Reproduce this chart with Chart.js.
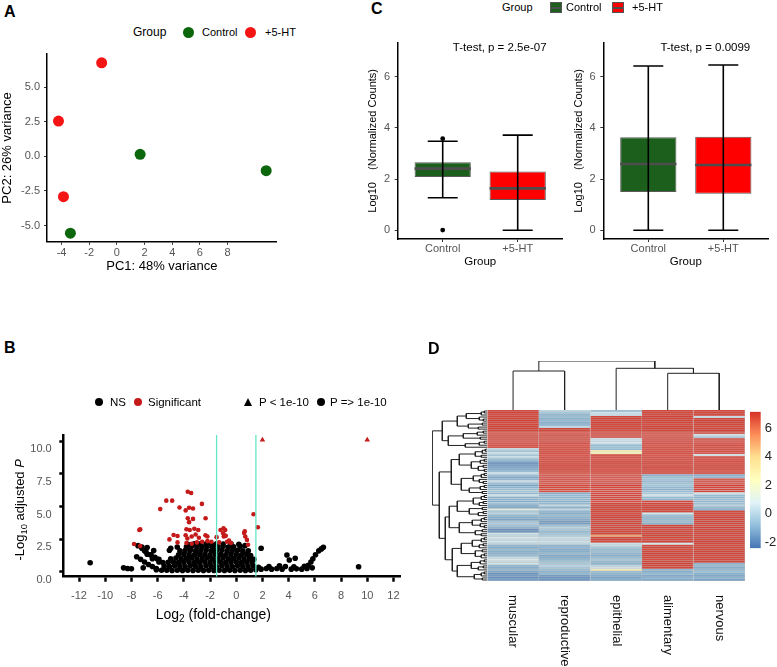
<!DOCTYPE html>
<html>
<head>
<meta charset="utf-8">
<script src="https://cdn.jsdelivr.net/npm/chart.js@4.4.1/dist/chart.umd.min.js"></script>
<style>
  body { margin: 0; background: #fff; }
  #fig { position: relative; width: 777px; height: 667px; overflow: hidden; font-family: 'Liberation Sans', Arial, sans-serif; color: #000; }
  #fig canvas { position: absolute; }
  .lbl { position: absolute; white-space: nowrap; line-height: 1; }
  .panel { font-weight: bold; font-size: 16px; }
  .dot { position: absolute; border-radius: 50%; }
  .key { position: absolute; width: 12px; height: 11px; border: 1px solid #555; box-sizing: border-box; }
  .key i { position: absolute; left: 0; right: 0; top: 4px; height: 2px; background: #4d4d4d; }
</style>
</head>
<body>
<div id="fig">
  <canvas id="pca" width="300" height="240" style="left:0;top:40px"></canvas>
  <canvas id="vol" width="410" height="250" style="left:0;top:380px"></canvas>
  <canvas id="boxL" width="220" height="245" style="left:350px;top:30px"></canvas>
  <canvas id="boxR" width="220" height="245" style="left:556px;top:30px"></canvas>
  <canvas id="coldend" width="280" height="56" style="left:480px;top:355px"></canvas>
  <canvas id="heat" width="280" height="262" style="left:480px;top:405px"></canvas>
  <canvas id="rowdend" width="64" height="262" style="left:425px;top:405px"></canvas>
  <canvas id="cbar" width="32" height="160" style="left:745px;top:400px"></canvas>

  <div class="lbl panel" style="left:4px;top:4px">A</div>
  <div class="lbl panel" style="left:4px;top:339.7px">B</div>
  <div class="lbl panel" style="left:371px;top:1.3px">C</div>
  <div class="lbl panel" style="left:428px;top:340.7px">D</div>

  <!-- legend A -->
  <div class="lbl" style="left:133px;top:26px;font-size:12px">Group</div>
  <div class="dot" style="left:182.5px;top:26.5px;width:11px;height:11px;background:#0c660c"></div>
  <div class="lbl" style="left:202px;top:26.6px;font-size:11px">Control</div>
  <div class="dot" style="left:244.5px;top:26.5px;width:11px;height:11px;background:#f41414"></div>
  <div class="lbl" style="left:265px;top:26.6px;font-size:11px">+5-HT</div>

  <!-- legend B -->
  <div class="dot" style="left:95px;top:398.3px;width:8px;height:8px;background:#000"></div>
  <div class="lbl" style="left:110px;top:396.7px;font-size:11.5px">NS</div>
  <div class="dot" style="left:133.7px;top:398.3px;width:8px;height:8px;background:#c41a1a"></div>
  <div class="lbl" style="left:148px;top:396.7px;font-size:11.5px">Significant</div>
  <div style="position:absolute;left:243.8px;top:397.5px;width:0;height:0;border-left:4.5px solid transparent;border-right:4.5px solid transparent;border-bottom:8px solid #000"></div>
  <div class="lbl" style="left:259px;top:396.7px;font-size:11.5px">P &lt; 1e-10</div>
  <div class="dot" style="left:317px;top:398.3px;width:8px;height:8px;background:#000"></div>
  <div class="lbl" style="left:330px;top:396.7px;font-size:11.5px">P =&gt; 1e-10</div>

  <!-- legend C -->
  <div class="lbl" style="left:502px;top:1.5px;font-size:11px">Group</div>
  <div class="key" style="left:550px;top:2px;background:#1c5f1c"><i></i></div>
  <div class="lbl" style="left:566px;top:1.8px;font-size:11px">Control</div>
  <div class="key" style="left:612px;top:2px;background:#fe0000"><i></i></div>
  <div class="lbl" style="left:632px;top:1.8px;font-size:11px">+5-HT</div>
</div>

<script>
const FONT = "'Liberation Sans', Arial, sans-serif";
Chart.defaults.font.family = FONT;
Chart.defaults.animation = false;
Chart.defaults.responsive = false;
Chart.defaults.plugins.legend.display = false;
Chart.defaults.plugins.tooltip.enabled = false;

// ---------- A: PCA ----------
const pcaControlX = [1.68, 10.79, -3.36];
const pcaControlY = [0.14, -1.04, -5.56];
const pcaTreatX = [-1.10, -4.22, -3.86];
const pcaTreatY = [6.76, 2.55, -2.92];
const pcaXTicks = [-4, -2, 0, 2, 4, 6, 8];
const pcaYTicks = [-5, -2.5, 0, 2.5, 5];

// ---------- B: volcano ----------
const fcCutoffs = [-1.5, 1.5];
const volXTicks = [-12, -10, -8, -6, -4, -2, 0, 2, 4, 6, 8, 10, 12];
const volYTicks = [0, 2.5, 5, 7.5, 10];
const capPoints = [[2.0, 10.1], [10.0, 10.1]];
const sigPoints = [
  [-3.70, 6.13], [-3.44, 6.03], [-5.34, 5.45], [-4.89, 5.45], [-5.80, 4.80], [-4.33, 4.92],
  [-3.86, 4.70], [-3.60, 4.90], [-3.30, 4.85], [-2.62, 5.20], [-3.70, 4.10], [-3.60, 3.80],
  [-3.30, 4.05], [-2.34, 4.10], [-3.80, 3.26], [-3.55, 3.20], [-3.20, 3.30], [-2.90, 3.20],
  [-7.33, 3.25], [-7.40, 3.20], [-4.78, 2.82], [-4.48, 2.74], [-5.10, 2.48], [-3.86, 2.80],
  [-3.73, 2.55], [-3.40, 2.70], [-3.10, 2.85], [-2.85, 2.60], [-2.35, 2.80], [-2.20, 2.70],
  [-4.48, 2.25], [-7.80, 2.13], [-7.33, 1.97], [-3.80, 2.20], [-3.40, 2.15], [-3.00, 2.25],
  [-2.60, 2.30], [-2.20, 2.35], [-1.90, 2.30], [-1.50, 2.65], [-1.20, 3.20], [-0.97, 3.33],
  [-0.84, 3.20], [-1.00, 2.95], [-0.95, 2.70], [-0.80, 2.75], [-0.55, 2.40], [-0.40, 2.20],
  [0.60, 2.97], [0.69, 2.70], [0.82, 2.44], [0.65, 3.10], [1.32, 4.41], [1.65, 3.41],
  [0.90, 2.07], [-1.30, 2.25], [-0.70, 2.30]
];
const nsPoints = [
  [-8.6, 0.30], [-8.3, 0.25], [-8.0, 0.22], [-7.1, 0.30], [-6.1, 0.15], [-5.7, 0.12], [-5.3, 0.12],
  [-4.9, 0.10], [-4.5, 0.12], [-4.1, 0.10], [-3.7, 0.12], [-3.3, 0.10], [-2.9, 0.12], [-2.5, 0.10],
  [-2.1, 0.12], [-1.7, 0.10], [-1.3, 0.12], [-0.9, 0.10], [-0.5, 0.12], [-0.1, 0.10], [0.3, 0.12],
  [0.7, 0.10], [1.1, 0.12], [1.5, 0.15], [1.9, 0.20], [2.3, 0.25], [2.7, 0.20], [3.1, 0.25],
  [3.5, 0.20], [4.2, 0.20], [4.6, 0.22], [5.0, 0.20], [5.4, 0.25], [5.8, 0.30],
  [-5.5, 0.42], [-5.1, 0.40], [-4.7, 0.45], [-4.3, 0.42], [-3.9, 0.40], [-3.5, 0.45], [-3.1, 0.42],
  [-2.7, 0.40], [-2.3, 0.45], [-1.9, 0.42], [-1.5, 0.40], [-1.1, 0.45], [-0.7, 0.42], [-0.3, 0.40],
  [0.1, 0.45], [0.5, 0.42], [0.9, 0.40], [1.3, 0.45], [1.7, 0.35], [2.5, 0.40], [3.3, 0.45],
  [3.75, 0.40], [4.4, 0.38], [5.2, 0.42], [5.5, 0.50],
  [-5.9, 0.75], [-5.6, 0.70], [-5.2, 0.72], [-4.8, 0.75], [-4.4, 0.70], [-4.0, 0.72], [-3.6, 0.75],
  [-3.2, 0.70], [-2.8, 0.72], [-2.4, 0.75], [-2.0, 0.70], [-1.6, 0.72], [-1.2, 0.75], [-0.8, 0.70],
  [-0.4, 0.72], [0.0, 0.75], [0.4, 0.70], [0.8, 0.72], [1.2, 0.70], [5.7, 0.75],
  [-6.4, 1.00], [-6.0, 0.95], [-5.0, 1.00], [-4.6, 1.05], [-4.2, 1.00], [-3.8, 1.02], [-3.4, 1.05],
  [-3.0, 1.00], [-2.6, 1.02], [-2.2, 1.05], [-1.8, 1.00], [-1.4, 1.02], [-1.0, 1.05], [-0.6, 1.00],
  [-0.2, 1.02], [0.2, 1.05], [0.6, 1.00], [1.0, 1.02], [1.35, 0.95], [4.05, 0.90], [4.5, 1.03],
  [5.85, 1.00],
  [-6.8, 1.35], [-6.55, 1.30], [-4.4, 1.30], [-4.0, 1.35], [-3.6, 1.32], [-3.2, 1.30], [-2.8, 1.35],
  [-2.4, 1.32], [-2.0, 1.30], [-1.6, 1.35], [-1.2, 1.32], [-0.8, 1.30], [-0.4, 1.35], [0.0, 1.32],
  [0.4, 1.30], [0.8, 1.35], [1.1, 1.25], [3.87, 1.28], [6.05, 1.30],
  [-7.0, 1.60], [-6.3, 1.62], [-5.1, 1.65], [-4.3, 1.60], [-3.9, 1.62], [-3.5, 1.65], [-3.1, 1.60],
  [-2.7, 1.62], [-2.3, 1.65], [-1.9, 1.60], [-1.5, 1.62], [-1.1, 1.65], [-0.7, 1.60], [-0.3, 1.62],
  [0.1, 1.65], [0.5, 1.60], [0.92, 1.60], [6.3, 1.60],
  [-7.2, 1.90], [-6.8, 1.85], [-5.0, 1.80], [-4.5, 1.90], [-3.8, 1.92], [-3.4, 1.95], [-3.0, 1.90],
  [-2.6, 1.92], [-2.2, 1.95], [-1.8, 1.90], [-1.4, 1.92], [-1.0, 1.95], [-0.6, 1.90], [-0.2, 1.92],
  [0.3, 1.95], [0.67, 2.00], [1.9, 1.80], [6.5, 1.75], [6.65, 1.88],
  [-3.7, 2.10], [-3.2, 2.15], [-2.8, 2.12], [-2.3, 2.15], [-1.9, 2.10], [-1.5, 2.15], [-1.0, 2.12],
  [-0.4, 2.15], [0.2, 2.10],
  [-7.6, 1.15], [-7.3, 0.95], [-7.0, 0.75], [-6.7, 0.55], [-6.4, 0.40], [-6.1, 0.25],
  [-7.2, 1.80], [-6.9, 1.55], [-6.5, 1.30], [-6.2, 1.10], [-5.9, 0.95], [-7.5, 2.00],
  [-11.15, 0.69], [9.34, 0.38]
];

// ---------- C: box plots ----------
const boxGroups = ['Control', '+5-HT'];
const boxFills = ['#1c5f1c', '#fe0000'];
const boxYTicks = [0, 2, 4, 6];
const leftMin = [1.27, 0.00], leftQ1 = [2.08, 1.18], leftMed = [2.41, 1.64], leftQ3 = [2.66, 2.30], leftMax = [3.48, 3.72];
const leftOut = [[3.58, 0.01], []];
const rightMin = [0.00, 0.00], rightQ1 = [1.50, 1.43], rightMed = [2.59, 2.55], rightQ3 = [3.64, 3.66], rightMax = [6.42, 6.46];
const rightOut = [[], []];
const pTexts = ['T-test, p = 2.5e-07', 'T-test, p = 0.0099'];

// ---------- D: heatmap ----------
const tissues = ['muscular', 'reproductive', 'epithelial', 'alimentary', 'nervous'];
const heatMuscular = [
  7.0,7.1,6.9,7.0,7.0,7.1,6.9,7.0,7.1,7.0,
  7.0,6.9,7.0,7.1,7.0,7.0,6.9,7.0,7.0,0.2,
  -0.6,0.4,-0.5,0.3,-0.8,-1.2,-1.9,-1.7,-1.5,-1.3,
  -1.0,0.5,-0.9,-1.6,-1.2,0.3,-0.9,-1.4,-1.0,-0.7,
  -0.4,-0.9,0.5,-1.1,-1.0,-1.2,-0.6,-1.1,-1.3,1.2,
  -0.3,0.1,-0.8,-1.1,-1.4,-0.5,-0.2,-0.6,-1.0,-1.9,
  -1.7,0.6,0.2,0.8,0.3,0.7,0.1,-0.9,-1.2,-0.8,
  -1.1,-1.0,-0.7,0.4,0.9,0.3,0.6,-1.0,-1.2,-0.9,
  -1.3,-1.8,-1.6,-1.9,-1.5
];
const heatReproductive = [
  0.1,-0.4,-0.9,-0.7,-1.0,-0.8,-1.1,-0.9,0.2,7.0,
  7.0,6.9,7.1,7.0,7.0,7.0,7.1,6.9,7.0,7.0,
  7.0,7.1,6.9,7.0,7.0,7.0,6.9,7.1,7.0,7.0,
  7.0,6.9,7.0,7.0,7.1,7.0,6.9,7.0,7.0,7.0,
  6.9,-1.2,-0.9,-1.0,-0.8,-1.1,-0.9,0.3,-1.0,0.2,
  -0.9,-1.1,-0.7,-1.0,-1.2,-1.6,-1.5,-0.6,0.1,-0.4,
  -0.8,-0.5,-0.2,0.5,0.3,0.6,0.2,-1.0,-0.9,-1.2,
  -1.1,-0.8,-1.3,-1.2,-0.9,-0.5,-0.3,0.1,-0.4,-0.7,
  -1.0,-0.9,-1.6,-1.8,-1.7
];
const heatEpithelial = [
  -0.6,0.6,0.4,7.0,7.0,6.9,7.1,7.0,7.0,7.0,
  6.9,7.1,7.0,7.0,0.5,0.3,0.6,-0.8,-0.6,-0.9,
  2.9,2.6,7.0,7.0,6.9,7.1,7.0,7.0,7.0,6.9,
  7.1,7.0,7.0,7.0,6.9,7.0,7.0,7.1,7.0,7.0,
  6.9,7.0,7.0,7.0,7.1,6.9,7.0,7.0,7.0,7.0,
  7.0,6.9,7.0,7.1,7.0,7.0,7.0,6.9,7.0,7.0,
  7.0,7.0,5.1,7.0,7.1,6.9,0.5,0.3,-0.5,-0.8,
  -0.6,-0.9,-1.1,-0.7,-0.4,-0.9,-1.0,0.2,0.6,2.8,
  -0.7,-1.0,-1.2,-1.4,-1.1
];
const heatAlimentary = [
  7.0,7.0,6.9,7.1,7.0,7.0,7.0,6.9,7.1,7.0,
  7.0,7.0,6.9,7.0,7.0,7.1,7.0,6.9,7.0,7.0,
  7.0,7.1,6.9,7.0,7.0,7.0,7.0,6.9,7.1,7.0,
  7.0,7.0,-1.3,-0.9,-0.7,-1.0,-0.8,-0.5,-0.9,-1.1,
  -0.7,-0.4,0.6,-0.8,-1.0,7.0,7.0,6.9,7.1,7.0,
  7.0,0.7,-0.6,-0.9,-0.8,-0.7,-1.0,7.0,7.1,6.9,
  7.0,7.0,7.0,7.0,6.9,7.1,0.8,7.0,7.0,6.9,
  7.0,7.1,7.0,7.0,6.9,7.0,7.1,7.0,7.0,-0.9,
  -1.1,-0.8,-1.3,-1.0,-1.2
];
const heatNervous = [
  7.0,7.0,6.9,0.4,7.0,7.1,7.0,7.0,6.9,7.0,
  7.1,7.0,0.5,-0.4,7.0,7.0,6.9,7.1,7.0,7.0,
  7.0,6.9,0.6,7.0,7.0,7.1,6.9,7.0,7.0,7.0,
  6.9,7.0,-1.4,-1.1,7.0,7.0,6.9,7.1,7.0,7.0,
  7.0,0.5,-0.8,-1.0,-0.7,-0.9,-0.6,0.1,-0.8,-1.0,
  7.0,7.0,6.9,7.1,7.0,7.0,7.0,6.9,7.1,7.0,
  7.0,7.0,6.9,7.0,7.0,7.1,7.0,6.9,7.0,7.0,
  7.0,7.1,6.9,7.0,7.0,7.0,-1.0,-0.8,-1.2,-0.9,
  -0.6,-1.1,-1.3,-1.0,-1.4
];
const heatCols = [heatMuscular, heatReproductive, heatEpithelial, heatAlimentary, heatNervous];
// dendrograms: [height, left, right], numbers are leaf indices
const colTree = [49, [39, 0, 1], [41.7, 2, [36.7, 3, 4]]];
const rowTree = [55,
  [45,
    [30, [21, [6, [3, 0, 1], 2], [8, 3, [4, 4, 5]]], [19, [5, 6, 7], [9, 8, 9]]],
    [39, [24, [10, [4, 10, 11], 12], [7, 13, 14]], [22, [8, [3, 15, 16], 17], 18]]],
  [48,
    [36, [28, [12, [5, [2, 19, 20], 21], [6, 22, 23]], [16, [7, [3, 24, 25], 26], [9, [4, 27, 28], [3, 29, 30]]]],
         [26, [14, [6, [3, 31, 32], 33], [8, 34, [4, 35, 36]]], [18, [7, [3, 37, 38], 39], [5, 40, 41]]]],
    [42,
      [38, [30, [14, [6, [3, 42, 43], 44], [8, [4, 45, 46], 47]], [18, [5, 48, 49], [9, [4, 50, 51], 52]]],
           [28, [15, [6, [3, 53, 54], 55], [7, 56, [3, 57, 58]]], [12, [5, 59, 60], [6, 61, 62]]]],
      [35, [26, [15, [6, [3, 63, 64], 65], [8, [4, 66, 67], 68]], [12, [5, 69, 70], [6, [3, 71, 72], 73]]],
           [30, [16, [7, [3, 74, 75], 76], [9, [4, 77, 78], 79]], [13, [6, [3, 80, 81], 82], [5, 83, 84]]]]]]];
const heatMin = -2.43, heatMax = 7.14;
const heatLegendTicks = [-2, 0, 2, 4, 6];
const heatRamp = ['#4575B4', '#91BFDB', '#E0F3F8', '#FFFFBF', '#FEE090', '#FC8D59', '#D73027'];

// ---------- helpers ----------
const fixedTicks = arr => s => { s.ticks = arr.map(v => ({ value: v })); };
const axisLine = w => ({ display: true, color: '#000', width: w });
const tickGrid = (len, w, col) => ({ display: true, drawOnChartArea: false, drawTicks: true, tickLength: len, tickWidth: w, tickColor: col });
const pts = arr => arr.map(p => ({ x: p[0], y: p[1] }));

function hexRgb(h) { return [1, 3, 5].map(i => parseInt(h.substr(i, 2), 16)); }
function rampRgb(v) {
  let t = (v - heatMin) / (heatMax - heatMin);
  t = Math.min(1, Math.max(0, t)) * (heatRamp.length - 1);
  const i = Math.min(Math.floor(t), heatRamp.length - 2), f = t - i;
  const a = hexRgb(heatRamp[i]), b = hexRgb(heatRamp[i + 1]);
  return a.map((c, k) => Math.round(c + (b[k] - c) * f));
}
// cell colour is slightly dulled by the grey cell borders in the original
const heatColor = v => `rgb(${rampRgb(v).map(c => Math.round(c * 0.85 + 160 * 0.15))})`;
const heatBorder = v => `rgb(${rampRgb(v).map(c => Math.round(c * 0.4 + 190 * 0.6))})`;

// U-shaped segments of a dendrogram, separated by null points
function dendroPoints(tree, rowsAlongY) {
  const out = [];
  const put = (p, h) => out.push(rowsAlongY ? { x: h, y: p } : { x: p, y: h });
  function walk(n) {
    if (typeof n === 'number') return { p: rowsAlongY ? n : n + 0.5, h: 0 };
    const A = walk(n[1]), B = walk(n[2]), h = n[0];
    put(A.p, A.h); put(A.p, h); put(B.p, h); put(B.p, B.h);
    out.push({ x: rowsAlongY ? h : A.p, y: null });
    return { p: (A.p + B.p) / 2, h };
  }
  walk(tree);
  return out;
}

function richText(ctx, parts, size) {
  const f = p => `${p.italic ? 'italic ' : ''}${p.sub ? size * 0.72 : size}px ${FONT}`;
  let w = 0;
  parts.forEach(p => { ctx.font = f(p); w += ctx.measureText(p.t).width; });
  let x = -w / 2;
  ctx.textAlign = 'left'; ctx.textBaseline = 'middle';
  parts.forEach(p => { ctx.font = f(p); ctx.fillText(p.t, x, p.sub ? size * 0.32 : 0); x += ctx.measureText(p.t).width; });
}

// ---------- A ----------
new Chart(document.getElementById('pca'), {
  type: 'scatter',
  data: { datasets: [
    { data: pcaControlX.map((x, i) => ({ x, y: pcaControlY[i] })), backgroundColor: '#0c660c', pointRadius: 5.5, borderWidth: 0 },
    { data: pcaTreatX.map((x, i) => ({ x, y: pcaTreatY[i] })), backgroundColor: '#f41414', pointRadius: 5.5, borderWidth: 0 }
  ] },
  options: {
    layout: { padding: { left: 0, top: 14.2, right: 23.3, bottom: 0 } },
    scales: {
      x: { type: 'linear', min: -5.05, max: 11.55, afterBuildTicks: fixedTicks(pcaXTicks), afterFit: s => { s.height = 38.2; },
        border: axisLine(1.5), grid: tickGrid(3, 1, '#333'),
        ticks: { color: '#555', font: { size: 11 }, padding: 2, maxRotation: 0, autoSkip: false },
        title: { display: true, text: 'PC1: 48% variance', color: '#000', font: { size: 13 }, padding: { top: 0, bottom: 6 } } },
      y: { type: 'linear', min: -6.18, max: 7.38, afterBuildTicks: fixedTicks(pcaYTicks), afterFit: s => { s.width = 47; },
        border: axisLine(1.5), grid: tickGrid(3, 1, '#333'),
        ticks: { color: '#555', font: { size: 11 }, padding: 4, callback: v => Number(v).toFixed(1) },
        title: { display: true, text: 'PC2: 26% variance', color: '#000', font: { size: 13 }, padding: { top: 0, bottom: 0 } } }
    }
  }
});

// ---------- B ----------
const volYMin = -0.38, volYMax = 10.48;
const cutoffLine = [];
fcCutoffs.forEach(c => cutoffLine.push({ x: c, y: volYMin }, { x: c, y: volYMax }, { x: c, y: null }));
new Chart(document.getElementById('vol'), {
  type: 'scatter',
  data: { datasets: [
    { data: cutoffLine, showLine: true, spanGaps: false, borderColor: '#62e6c6', borderWidth: 1.3, pointRadius: 0 },
    { data: pts(capPoints), pointStyle: 'triangle', pointRadius: 3.2, backgroundColor: '#c41a1a', borderWidth: 0 },
    { data: pts(sigPoints), pointRadius: 2.3, backgroundColor: '#c41a1a', borderWidth: 0 },
    { data: pts(nsPoints), pointRadius: 2.8, backgroundColor: '#000', borderWidth: 0 }
  ] },
  options: {
    layout: { padding: { left: 0, top: 55, right: 10, bottom: 0 } },
    scales: {
      x: { type: 'linear', min: -13.2, max: 12.5, afterBuildTicks: fixedTicks(volXTicks), afterFit: s => { s.height = 53.3; },
        border: axisLine(2.5), grid: tickGrid(5, 2.5, '#000'),
        ticks: { color: '#555', font: { size: 11 }, padding: 8, maxRotation: 0, autoSkip: false } },
      y: { type: 'linear', min: volYMin, max: volYMax, afterBuildTicks: fixedTicks(volYTicks), afterFit: s => { s.width = 63.3; },
        border: axisLine(2.5), grid: tickGrid(4, 2.5, '#000'),
        ticks: { color: '#555', font: { size: 11 }, padding: 7.6, labelOffset: 8, callback: v => Number(v).toFixed(1) } }
    }
  },
  plugins: [{
    id: 'volTitles',
    afterDraw(chart) {
      const { ctx, chartArea: a } = chart;
      ctx.save(); ctx.fillStyle = '#000';
      ctx.translate(a.left + 150, a.bottom + 38.3);
      richText(ctx, [{ t: 'Log' }, { t: '2', sub: true }, { t: ' (fold-change)' }], 14);
      ctx.restore();
      ctx.save(); ctx.fillStyle = '#000';
      ctx.translate(20, (a.top + a.bottom) / 2 + 4); ctx.rotate(-Math.PI / 2);
      richText(ctx, [{ t: '-Log' }, { t: '10', sub: true }, { t: ' adjusted ' }, { t: 'P', italic: true }], 13);
      ctx.restore();
    }
  }]
});

// ---------- C ----------
function boxChart(id, yWidth, padRight, mins, q1s, meds, q3s, maxs, outs, pText) {
  const pos = boxGroups.map((_, i) => i + 1);
  const medPts = [], whPts = [], outPts = [];
  pos.forEach((p, i) => {
    medPts.push({ x: p - 0.375, y: meds[i] }, { x: p + 0.375, y: meds[i] }, { x: p, y: null });
    whPts.push({ x: p, y: mins[i] }, { x: p, y: maxs[i] }, { x: p, y: null },
      { x: p - 0.2, y: mins[i] }, { x: p + 0.2, y: mins[i] }, { x: p, y: null },
      { x: p - 0.2, y: maxs[i] }, { x: p + 0.2, y: maxs[i] }, { x: p, y: null });
    outs[i].forEach(v => outPts.push({ x: p, y: v }));
  });
  new Chart(document.getElementById(id), {
    type: 'bar',
    data: { datasets: [
      { type: 'scatter', data: outPts, backgroundColor: '#000', pointRadius: 2.4, borderWidth: 0, order: 0 },
      { type: 'line', data: whPts, borderColor: '#000', borderWidth: 1.6, pointRadius: 0, spanGaps: false, order: 1 },
      { type: 'line', data: medPts, borderColor: '#4d4d4d', borderWidth: 2.6, pointRadius: 0, spanGaps: false, order: 2 },
      { type: 'bar', data: pos.map((p, i) => ({ x: p, y: [q1s[i], q3s[i]] })), backgroundColor: boxFills,
        borderColor: '#5a5a5a', borderWidth: 1, borderSkipped: false, barPercentage: 0.75, categoryPercentage: 1, order: 3 }
    ] },
    options: {
      layout: { padding: { left: 0, top: 12.7, right: padRight, bottom: 0 } },
      scales: {
        x: { type: 'linear', min: 0.4, max: 2.6, offset: false, afterBuildTicks: fixedTicks(pos), afterFit: s => { s.height = 36; },
          border: axisLine(1.5), grid: Object.assign(tickGrid(3, 1, '#333'), { offset: false }),
          ticks: { color: '#555', font: { size: 11 }, padding: 0, maxRotation: 0, autoSkip: false, callback: v => boxGroups[v - 1] },
          title: { display: true, text: 'Group', color: '#000', font: { size: 11.5 }, padding: { top: 0, bottom: 5.8 } } },
        y: { type: 'linear', min: -0.34, max: 7.33, afterBuildTicks: fixedTicks(boxYTicks), afterFit: s => { s.width = yWidth; },
          border: axisLine(1.5), grid: tickGrid(3, 1, '#333'),
          ticks: { color: '#555', font: { size: 11 }, padding: 4.7 },
          title: { display: true, text: 'Log10    (Normalized Counts)', color: '#000', font: { size: 11 }, padding: { top: 16.4, bottom: 0 } } }
      }
    },
    plugins: [{
      id: 'ptext',
      afterDraw(chart) {
        const { ctx, scales: { x, y } } = chart;
        ctx.save(); ctx.fillStyle = '#000'; ctx.font = `11.5px ${FONT}`;
        ctx.textAlign = 'center'; ctx.textBaseline = 'middle';
        ctx.fillText(pText, x.getPixelForValue(1.76), y.getPixelForValue(7.12));
        ctx.restore();
      }
    }]
  });
}
boxChart('boxL', 47.7, 7.3, leftMin, leftQ1, leftMed, leftQ3, leftMax, leftOut, pTexts[0]);
boxChart('boxR', 47.3, 7.7, rightMin, rightQ1, rightMed, rightQ3, rightMax, rightOut, pTexts[1]);

// ---------- D ----------
const dendroLine = { showLine: true, spanGaps: false, borderColor: '#222', borderWidth: 1, pointRadius: 0 };
new Chart(document.getElementById('coldend'), {
  type: 'scatter',
  data: { datasets: [Object.assign({ data: dendroPoints(colTree, false) }, dendroLine)] },
  options: {
    layout: { padding: { left: 7.3, top: 6, right: 15, bottom: 1 } },
    scales: { x: { type: 'linear', min: 0, max: tissues.length, display: false }, y: { type: 'linear', min: 0, max: colTree[0], display: false } }
  }
});
new Chart(document.getElementById('rowdend'), {
  type: 'scatter',
  data: { datasets: [Object.assign({ data: dendroPoints(rowTree, true) }, dendroLine)] },
  options: {
    layout: { padding: { left: 7.3, top: 5, right: 1.7, bottom: 86 } },
    scales: {
      x: { type: 'linear', min: 0, max: rowTree[0], reverse: true, display: false },
      y: { type: 'linear', min: -0.5, max: heatMuscular.length - 0.5, reverse: true, display: false }
    }
  }
});

const rowIds = heatMuscular.map((_, i) => 'row' + (i + 1));
new Chart(document.getElementById('heat'), {
  type: 'bar',
  data: {
    labels: rowIds,
    datasets: heatCols.map((vals, c) => ({
      data: vals.map(() => [c, c + 1]),
      backgroundColor: vals.map(heatColor),
      borderColor: vals.map(heatBorder),
      borderWidth: { top: 0, left: 0, bottom: 0.9, right: 1 },
      borderSkipped: false, grouped: false, barPercentage: 1, categoryPercentage: 1
    }))
  },
  options: {
    indexAxis: 'y',
    layout: { padding: { left: 7.3, top: 5, right: 15, bottom: 86 } },
    scales: { x: { type: 'linear', min: 0, max: tissues.length, display: false }, y: { display: false } }
  },
  plugins: [{
    id: 'colLabels',
    afterDraw(chart) {
      const { ctx, chartArea: a, scales: { x } } = chart;
      ctx.save(); ctx.fillStyle = '#111'; ctx.font = `13px ${FONT}`;
      ctx.textAlign = 'left'; ctx.textBaseline = 'middle';
      tissues.forEach((t, i) => {
        ctx.save(); ctx.translate(x.getPixelForValue(i + 0.5), a.bottom + 14); ctx.rotate(Math.PI / 2);
        ctx.fillText(t, 0, 0); ctx.restore();
      });
      ctx.restore();
    }
  }]
});

new Chart(document.getElementById('cbar'), {
  type: 'bar',
  data: { labels: ['scale'], datasets: [{
    data: [[heatMin, heatMax]], barPercentage: 1, categoryPercentage: 1, borderWidth: 0,
    backgroundColor: ctx => {
      const ch = ctx.chart; if (!ch.chartArea) return heatRamp[0];
      const y = ch.scales.y;
      const g = ch.ctx.createLinearGradient(0, y.getPixelForValue(heatMin), 0, y.getPixelForValue(heatMax));
      heatRamp.forEach((c, i) => g.addColorStop(i / (heatRamp.length - 1), c));
      return g;
    }
  }] },
  options: {
    layout: { padding: { left: 5, top: 10, right: 0, bottom: 9.3 } },
    scales: {
      x: { display: false },
      y: { position: 'right', min: heatMin, max: heatMax, afterBuildTicks: fixedTicks(heatLegendTicks), afterFit: s => { s.width = 16.3; },
        border: { display: false }, grid: { display: false, drawTicks: false },
        ticks: { color: '#222', font: { size: 13 }, padding: 4 } }
    }
  }
});
</script>
</body>
</html>
